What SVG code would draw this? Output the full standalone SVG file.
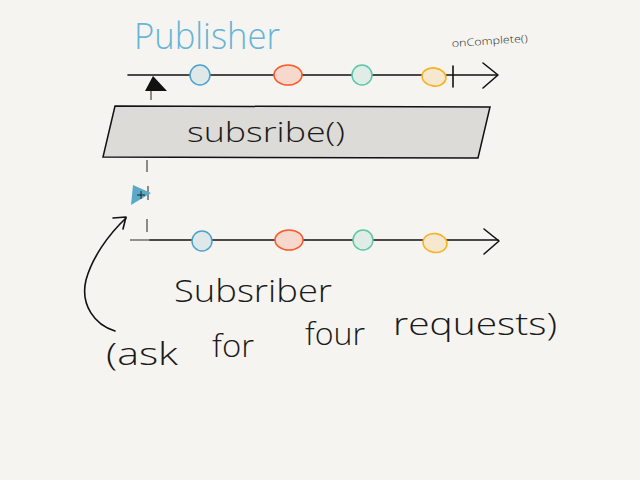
<svg xmlns="http://www.w3.org/2000/svg" width="640" height="480" viewBox="0 0 640 480">
<style>
.hand{font-family:"Open Sans","Liberation Sans",sans-serif;font-weight:300;fill:#1a1a1a}
.line{stroke:#111;stroke-width:1.6;fill:none;stroke-linecap:round;stroke-linejoin:round}
.thin{stroke:#222;stroke-width:1;fill:none}
.blue{fill:#dfe8e8;stroke:#4ba3cc;stroke-width:1.5}
.red{fill:#f6d8cc;stroke:#fa5a2a;stroke-width:1.6}
.green{fill:#e0ece6;stroke:#5cc6a8;stroke-width:1.5}
.orange{fill:#f5e8cf;stroke:#f8b226;stroke-width:1.6}
</style>
<rect width="640" height="480" fill="#f5f4f0"/>
<g id="publisher-label">
<text x="134" y="49" font-family="'Open Sans','Liberation Sans',sans-serif" font-weight="300" font-size="36" fill="#67b4d6" textLength="146" lengthAdjust="spacingAndGlyphs">Publisher</text>
</g>
<g id="oncomplete-label">
<text x="452" y="47" class="hand" font-size="10" textLength="76" lengthAdjust="spacingAndGlyphs" transform="rotate(-4 452 47)">onComplete()</text>
</g>
<g id="connectors">
<line class="line" x1="128" y1="75" x2="497" y2="75"/>
<polyline class="line" points="483,63 498,75 483,88"/>
<line class="line" x1="453" y1="66" x2="453" y2="87" stroke-width="1.2"/>
<line x1="130" y1="240" x2="150" y2="240" stroke="#777" stroke-width="1.6"/>
<line class="line" x1="150" y1="240" x2="498" y2="240"/>
<polyline class="line" points="484,229 499,241 484,254"/>
<line class="thin" x1="151" y1="91" x2="151" y2="100"/>
<line class="thin" x1="147" y1="160" x2="147" y2="172"/>
<line class="thin" x1="148" y1="186" x2="148" y2="200"/>
<line class="thin" x1="147" y1="219" x2="147" y2="232"/>
<path class="line" d="M115,331 C95,325 80,305 86,280 C92,258 108,235 126,218" stroke-width="2.4"/>
<polyline class="line" points="113,218 126,217 123,229" stroke-width="1.4"/>
</g>
<g id="publisher-events">
<circle class="blue" cx="200" cy="75" r="10"/>
<ellipse class="red" cx="288" cy="75" rx="14" ry="10"/>
<circle class="green" cx="362" cy="75" r="10"/>
<ellipse class="orange" cx="434" cy="77" rx="12" ry="9" transform="rotate(8 434 77)"/>
</g>
<g id="request-marker">
<polygon points="153,76 145,91 167,91" fill="#111"/>
</g>
<g id="subscribe-box">
<polygon points="115,106 490,107 478,158 103,157" fill="#dcdbd7" stroke="#111" stroke-width="1.5"/>
<text x="187" y="142" class="hand" font-size="28" textLength="158" lengthAdjust="spacingAndGlyphs">subsribe()</text>
</g>
<g id="subscription-marker">
<polygon points="133,185 151,193 131,205" fill="#5aa9c8"/>
<path class="thin" d="M137,195 H145 M141,191 V199"/>
</g>
<g id="subscriber-events">
<circle class="blue" cx="202" cy="241" r="10"/>
<ellipse class="red" cx="289" cy="240" rx="14" ry="10"/>
<circle class="green" cx="363" cy="240" r="10"/>
<ellipse class="orange" cx="435" cy="243" rx="12" ry="9.5" transform="rotate(8 435 243)"/>
</g>
<g id="subscriber-label">
<text x="174" y="302" class="hand" font-size="32" textLength="158" lengthAdjust="spacingAndGlyphs">Subsriber</text>
</g>
<g id="request-note">
<text class="hand" font-size="32"><tspan x="106" y="365" textLength="72" lengthAdjust="spacingAndGlyphs">(ask</tspan><tspan x="212" y="357" textLength="42" lengthAdjust="spacingAndGlyphs">for</tspan><tspan x="305" y="345" textLength="60" lengthAdjust="spacingAndGlyphs">four</tspan><tspan x="393" y="335" textLength="164" lengthAdjust="spacingAndGlyphs">requests)</tspan></text>
</g>
</svg>
